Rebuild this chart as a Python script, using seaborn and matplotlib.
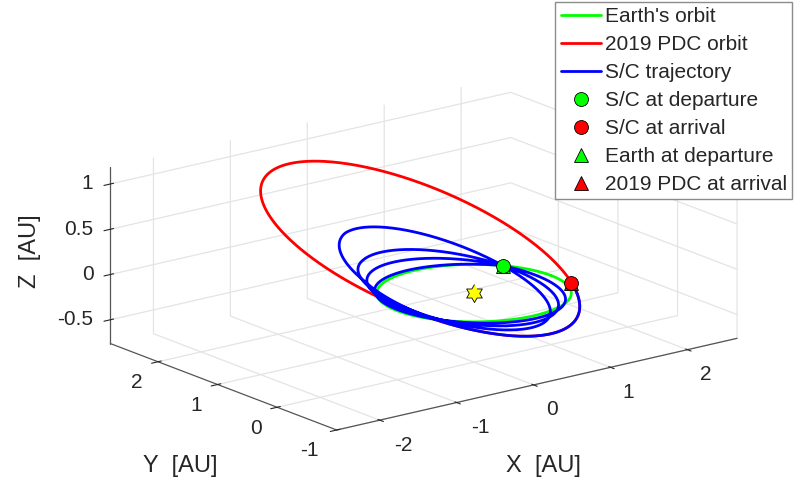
import numpy as np
import matplotlib
matplotlib.use("Agg")
import matplotlib.pyplot as plt
from mpl_toolkits.mplot3d import proj3d
import seaborn as sns

sns.set_style("white")
plt.rcParams['font.family'] = ['Liberation Sans', 'DejaVu Sans']
plt.rcParams['axes.unicode_minus'] = False

# ===============================================
# Datos
# ===============================================
# elementos orbitales: a [AU], e, i [deg], nodo [deg], longitud del perihelio [deg]
earth_sma, earth_ecc, earth_inc, earth_raan, earth_lonp = 1.0, 0.0, 0.0, 0.0, 0.0
pdc_sma, pdc_ecc, pdc_inc, pdc_raan, pdc_lonp = 1.89, 0.507, 19.3, 36.9, 270.7

# trayectoria S/C: longitudes de control (acumuladas) y elementos osculantes
sc_knot_lon = [35.0, 125.0, 485.0, 845.0, 1205.0, 1250.0, 1330.0, 1448.8]
sc_sma = [1.0, 1.0004, 1.0101, 1.0335, 1.136, 1.136, 1.89, 1.89]
sc_ecc = [0.0, 0.02, 0.10, 0.18, 0.31, 0.31, 0.507, 0.507]
sc_inc = [0.0, 1.5, 7.0, 12.0, 21.0, 21.0, 19.3, 19.3]
sc_raan = [35.0, 35.0, 35.0, 35.0, 35.0, 35.0, 36.9, 36.9]
sc_lonp = [305.0, 305.0, 305.0, 305.0, 310.0, 310.0, 270.7, 270.7]

departure_lon = 35.0
arrival_lon = 1448.8

x_ticks = [-2, -1, 0, 1, 2]
y_ticks = [-1, 0, 1, 2]
z_ticks = [-0.5, 0, 0.5, 1]
x_ticklabels = ['-2', '-1', '0', '1', '2']
y_ticklabels = ['-1', '0', '1', '2']
z_ticklabels = ['-0.5', '0', '0.5', '1']

legend_labels = ["Earth's orbit", "2019 PDC orbit", "S/C trajectory",
                 "S/C at departure", "S/C at arrival",
                 "Earth at departure", "2019 PDC at arrival"]


def orbit_xyz(lon_deg, a, e, inc, raan, lonp):
    lon = np.radians(lon_deg)
    u = lon - np.radians(raan)
    nu = lon - np.radians(lonp)
    r = a * (1 - e**2) / (1 + e * np.cos(nu))
    om, i = np.radians(raan), np.radians(inc)
    x = r * (np.cos(u) * np.cos(om) - np.sin(u) * np.sin(om) * np.cos(i))
    y = r * (np.cos(u) * np.sin(om) + np.sin(u) * np.cos(om) * np.cos(i))
    z = r * np.sin(u) * np.sin(i)
    return x, y, z


full = np.linspace(0, 360, 721)
earth = orbit_xyz(full, earth_sma, earth_ecc, earth_inc, earth_raan, earth_lonp)
pdc = orbit_xyz(full, pdc_sma, pdc_ecc, pdc_inc, pdc_raan, pdc_lonp)

# S/C: mezcla entre elementos de control consecutivos
sc_parts = []
for j in range(len(sc_knot_lon) - 1):
    l0, l1 = sc_knot_lon[j], sc_knot_lon[j + 1]
    lon = np.arange(l0, l1, 0.5)
    t = (lon - l0) / (l1 - l0)
    p0 = np.array(orbit_xyz(lon, sc_sma[j], sc_ecc[j], sc_inc[j], sc_raan[j], sc_lonp[j]))
    p1 = np.array(orbit_xyz(lon, sc_sma[j + 1], sc_ecc[j + 1], sc_inc[j + 1],
                            sc_raan[j + 1], sc_lonp[j + 1]))
    sc_parts.append((1 - t) * p0 + t * p1)
sc_parts.append(np.array(orbit_xyz(np.array([arrival_lon]), pdc_sma, pdc_ecc, pdc_inc,
                                   pdc_raan, pdc_lonp)))
sc = np.hstack(sc_parts)

dep = orbit_xyz(departure_lon, earth_sma, earth_ecc, earth_inc, earth_raan, earth_lonp)
arr = orbit_xyz(arrival_lon, pdc_sma, pdc_ecc, pdc_inc, pdc_raan, pdc_lonp)

# ===============================================
# Figura
# ===============================================
x_lim, y_lim, z_lim = (-2.56, 2.645), (-1.0, 2.8), (-0.763, 1.183)

W, H = 794, 482
fig = plt.figure(figsize=(W / 100, H / 100), dpi=100)
ax = fig.add_axes([0, 0, 1, 1], projection='3d', computed_zorder=False)
ax.set_proj_type('ortho')
ax.view_init(elev=17.2, azim=-127.75)
ax.set_xlim(x_lim)
ax.set_ylim(y_lim)
ax.set_zlim(z_lim)
ax.set_box_aspect((x_lim[1] - x_lim[0], y_lim[1] - y_lim[0], (z_lim[1] - z_lim[0]) * 0.974))

for axis in (ax.xaxis, ax.yaxis, ax.zaxis):
    axis.set_pane_color((1, 1, 1, 1))
    axis.pane.set_edgecolor('white')
    axis._axinfo['grid'].update(color='#e4e4e4', linewidth=0.9)
    axis.line.set_color('#555555')
    axis.line.set_linewidth(0.9)
ax.grid(True)

ax.set_xticks(x_ticks)
ax.set_yticks(y_ticks)
ax.set_zticks(z_ticks)
ax.set_xticklabels([])
ax.set_yticklabels([])
ax.set_zticklabels([])

h_earth, = ax.plot(*earth, color='#00ff00', lw=2, zorder=3)
h_pdc, = ax.plot(*pdc, color='#ff0000', lw=2, zorder=4)
h_sc, = ax.plot(*sc, color='#0000ff', lw=2, zorder=5)

mk = dict(ms=10, mec='k', mew=0.6, ls='none')
h_edep, = ax.plot([dep[0]], [dep[1]], [dep[2]], marker='^', mfc='#00ff00', zorder=6, **mk)
h_parr, = ax.plot([arr[0]], [arr[1]], [arr[2]], marker='^', mfc='#ff0000', zorder=6, **mk)
h_sdep, = ax.plot([dep[0]], [dep[1]], [dep[2]], marker='o', mfc='#00ff00', zorder=7, **mk)
h_sarr, = ax.plot([arr[0]], [arr[1]], [arr[2]], marker='o', mfc='#ff0000', zorder=7, **mk)

# el Sol (hexagrama)
ang = np.radians(90 + 30 * np.arange(12))
rad = np.where(np.arange(12) % 2 == 0, 1.0, 1 / np.sqrt(3))
hexagram = list(zip(rad * np.cos(ang), rad * np.sin(ang)))
ax.plot([0], [0], [0], marker=hexagram, ms=13, mfc='#ffff00', mec='k', mew=0.6,
        ls='none', zorder=6)

# ajustar la caja proyectada a la posición de la figura original
corners = np.array([[x, y, z] for x in x_lim for y in y_lim for z in z_lim])
target_corner = np.array([336.7, H - 430.0])
target_span = 736.7 - 110.0
cx, cy, side = W / 2, H / 2, float(H)


def to_px(xs, ys, zs):
    px, py, _ = proj3d.proj_transform(np.asarray(xs, float), np.asarray(ys, float),
                                      np.asarray(zs, float), ax.M)
    return ax.transData.transform(np.column_stack([px, py]))


for _ in range(3):
    ax.set_position([(cx - side / 2) / W, (cy - side / 2) / H, side / W, side / H])
    fig.canvas.draw()
    pts = to_px(corners[:, 0], corners[:, 1], corners[:, 2])
    k = target_span / (pts[:, 0].max() - pts[:, 0].min())
    new_c = target_corner - k * (pts[0] - np.array([cx, cy]))
    cx, cy, side = new_c[0], new_c[1], side * k

ax.set_position([(cx - side / 2) / W, (cy - side / 2) / H, side / W, side / H])
fig.canvas.draw()

# etiquetas de las marcas, al estilo de MATLAB
tick_kw = dict(fontsize=15, color='#262626', va='center')
pts = to_px(x_ticks, [y_lim[0]] * len(x_ticks), [z_lim[0]] * len(x_ticks))
for (px, py), lab in zip(pts, x_ticklabels):
    dx = 24 if lab.startswith('-') else 18
    fig.text((px + dx) / W, (py - 25) / H, lab, ha='center', **tick_kw)
pts = to_px([x_lim[0]] * len(y_ticks), y_ticks, [z_lim[0]] * len(y_ticks))
for (px, py), lab in zip(pts, y_ticklabels):
    dx = -27 if lab.startswith('-') else -21
    fig.text((px + dx) / W, (py - 21) / H, lab, ha='center', **tick_kw)
pts = to_px([x_lim[0]] * len(z_ticks), [y_lim[1]] * len(z_ticks), z_ticks)
for (px, py), lab in zip(pts, z_ticklabels):
    fig.text((px - 17) / W, py / H, lab, ha='right', **tick_kw)

fig.text(180 / W, 1 - 466 / H, 'Y  [AU]', fontsize=17, ha='center', va='center', color='#262626')
fig.text(543 / W, 1 - 466 / H, 'X  [AU]', fontsize=17, ha='center', va='center', color='#262626')
fig.text(30 / W, 1 - 251 / H, 'Z  [AU]', fontsize=17, ha='center', va='center',
         rotation=90, color='#262626')

leg = fig.legend([h_earth, h_pdc, h_sc, h_sdep, h_sarr, h_edep, h_parr], legend_labels,
                 loc='upper right', bbox_to_anchor=(792 / W, 1 - 2 / H), borderaxespad=0,
                 fontsize=15, handlelength=1.92, handletextpad=0.2, labelspacing=0.43,
                 borderpad=0.25, fancybox=False, framealpha=1, edgecolor='#8c8c8c')
leg.get_frame().set_linewidth(1.0)

fig.savefig('out.png', dpi=100, facecolor='white')
